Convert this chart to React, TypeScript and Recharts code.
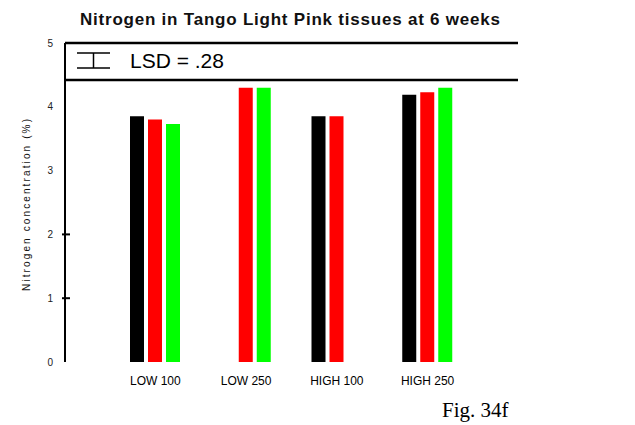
import React from 'react';
import { BarChart, Bar, XAxis, YAxis, ReferenceLine, ReferenceArea } from 'recharts';

const categories = ['LOW 100', 'LOW 250', 'HIGH 100', 'HIGH 250'];
const blackSeries: (number | null)[] = [3.85, null, 3.85, 4.19];
const redSeries: (number | null)[] = [3.8, 4.3, 3.85, 4.23];
const greenSeries: (number | null)[] = [3.73, 4.3, null, 4.3];
const yTicks = [0, 1, 2, 3, 4, 5];
const crossTicks = [1, 2];
const legendBoxBottom = 4.42;
const lsdLabel = 'LSD = .28';
const titleText = 'Nitrogen in Tango Light Pink tissues at 6 weeks';
const yLabelText = 'Nitrogen concentration (%)';
const figText = 'Fig. 34f';

const data = categories.map((name, i) => ({
  name,
  black: blackSeries[i],
  red: redSeries[i],
  green: greenSeries[i],
}));

const SANS = "'Liberation Sans', Arial, sans-serif";
const SERIF = "'Liberation Serif', 'Times New Roman', serif";

const LeftTick = (props: any) => {
  const { x, y, payload } = props;
  const axisX = x + 12;
  return (
    <g>
      <text x={x} y={y} textAnchor="end" dominantBaseline="central" fontSize={10} fill="#222" fontFamily={SANS}>
        {payload.value}
      </text>
      {crossTicks.includes(payload.value) && (
        <line x1={axisX - 3} x2={axisX + 5} y1={y} y2={y} stroke="#000" strokeWidth={2} />
      )}
    </g>
  );
};

const RightTick = (props: any) => {
  const { x, y, payload } = props;
  const axisX = x - 13;
  return (
    <g>
      <text x={x} y={y} textAnchor="start" dominantBaseline="central" fontSize={10} fill="#222" fontFamily={SANS}>
        {payload.value}
      </text>
      {crossTicks.includes(payload.value) && (
        <line x1={axisX - 5} x2={axisX + 5} y1={y} y2={y} stroke="#000" strokeWidth={2} />
      )}
    </g>
  );
};

const renderLsd = (props: any) => {
  const vb = props.viewBox || {};
  const x = vb.x ?? 0;
  const y = vb.y ?? 0;
  return (
    <g>
      <line x1={x + 12} x2={x + 45} y1={y + 10} y2={y + 10} stroke="#000" strokeWidth={1.5} />
      <line x1={x + 12} x2={x + 45} y1={y + 25} y2={y + 25} stroke="#000" strokeWidth={1.5} />
      <line x1={x + 28.5} x2={x + 28.5} y1={y + 10} y2={y + 25} stroke="#000" strokeWidth={1.5} />
      <text x={x + 65} y={y + 25} fontSize={21} fill="#000" fontFamily={SANS}>
        {lsdLabel}
      </text>
    </g>
  );
};

export default function App() {
  return (
    <div style={{ position: 'absolute', left: 0, top: 0, width: 635, height: 425, background: '#fff' }}>
      <BarChart
        width={635}
        height={425}
        data={data}
        margin={{ top: 43, right: 72, bottom: 33, left: 20 }}
        barSize={14}
        barGap={4}
      >
        <XAxis
          dataKey="name"
          axisLine={false}
          tickLine={false}
          padding={{ left: 45, right: 45 }}
          tickMargin={8}
          height={30}
          tick={{ fontSize: 12, fill: '#000', fontFamily: SANS }}
          interval={0}
        />
        <YAxis
          yAxisId="left"
          domain={[0, 5]}
          ticks={yTicks}
          width={45}
          tickSize={0}
          tickMargin={12}
          axisLine={{ stroke: '#000', strokeWidth: 2 }}
          tickLine={false}
          tick={<LeftTick />}
          allowDataOverflow
        />
        <YAxis
          yAxisId="right"
          orientation="right"
          domain={[0, 5]}
          ticks={yTicks}
          width={45}
          tickSize={0}
          tickMargin={13}
          axisLine={false}
          tickLine={false}
          tick={<RightTick />}
        />
        <Bar yAxisId="left" dataKey="black" fill="#000000" isAnimationActive={false} />
        <Bar yAxisId="left" dataKey="red" fill="#ff0000" isAnimationActive={false} />
        <Bar yAxisId="left" dataKey="green" fill="#00ff00" isAnimationActive={false} />
        <ReferenceArea
          yAxisId="left"
          y1={legendBoxBottom}
          y2={5}
          fill="#ffffff"
          fillOpacity={1}
          stroke="none"
        />
        <ReferenceLine yAxisId="left" y={5} stroke="#000" strokeWidth={2.5} label={renderLsd} />
        <ReferenceLine yAxisId="left" y={legendBoxBottom} stroke="#000" strokeWidth={2.5} />
      </BarChart>
      <svg
        width={635}
        height={425}
        style={{ position: 'absolute', left: 0, top: 0, pointerEvents: 'none' }}
      >
        <text x={290} y={25} textAnchor="middle" fontSize={17} fontWeight="bold" fill="#111" fontFamily={SANS} textLength={420} lengthAdjust="spacing">
          {titleText}
        </text>
        <text
          x={30}
          y={205}
          transform="rotate(-90, 30, 205)"
          textAnchor="middle"
          fontSize={10}
          fill="#111"
          fontFamily={SANS}
          textLength={172}
          lengthAdjust="spacing"
        >
          {yLabelText}
        </text>
        <text x={442} y={417} fontSize={21} fill="#000" fontFamily={SERIF}>
          {figText}
        </text>
      </svg>
    </div>
  );
}
